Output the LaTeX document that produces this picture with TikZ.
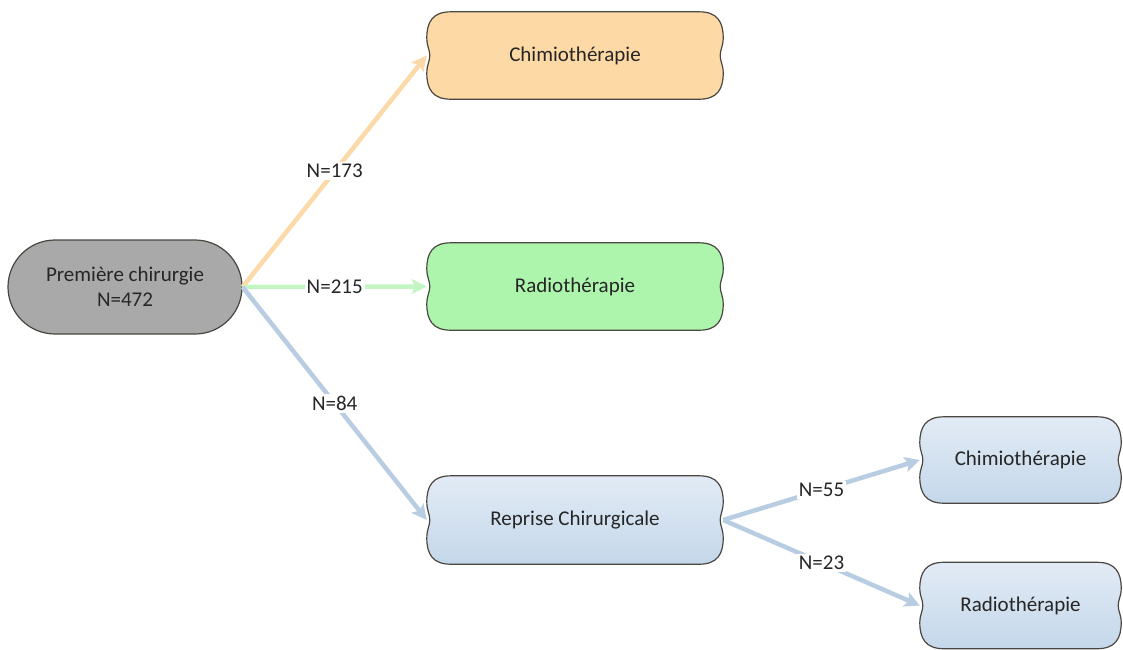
\documentclass[tikz,border=0pt]{standalone}
\usepackage{fontspec}
\setmainfont{Carlito}
\usetikzlibrary{arrows.meta,backgrounds,calc}
\definecolor{edge}{HTML}{4A4640}
\definecolor{txt}{HTML}{262626}
\definecolor{orfill}{HTML}{FDD9A6}
\definecolor{grfill}{HTML}{ADF5AD}
\definecolor{gyfill}{HTML}{A9A9A9}
\definecolor{bltop}{HTML}{E2EBF5}
\definecolor{blbot}{HTML}{C4D7EA}
\definecolor{orline}{HTML}{FBD9A8}
\definecolor{grline}{HTML}{C4F6C4}
\definecolor{blline}{HTML}{B9CDE2}
\newcommand\wavyoutline[2]{%
 \path[#2] let \p1=(#1.north west), \p2=(#1.south east), \p3=(#1.center) in
  ({\x1+24pt},\y1) -- ({\x2-24pt},\y1)
  .. controls ({\x2-6pt},\y1) and (\x2,{\y1-10pt}) .. (\x2,{\y1-26pt})
  .. controls (\x2,{\y3+9pt}) and ({\x2-3pt},{\y3+6pt}) .. ({\x2-3pt},\y3)
  .. controls ({\x2-3pt},{\y3-6pt}) and (\x2,{\y3-9pt}) .. (\x2,{\y2+26pt})
  .. controls (\x2,{\y2+10pt}) and ({\x2-6pt},\y2) .. ({\x2-24pt},\y2)
  -- ({\x1+24pt},\y2)
  .. controls ({\x1+6pt},\y2) and (\x1,{\y2+10pt}) .. (\x1,{\y2+26pt})
  .. controls (\x1,{\y3-9pt}) and ({\x1+3pt},{\y3-6pt}) .. ({\x1+3pt},\y3)
  .. controls ({\x1+3pt},{\y3+6pt}) and (\x1,{\y3+9pt}) .. (\x1,{\y1-26pt})
  .. controls (\x1,{\y1-10pt}) and ({\x1+6pt},\y1) .. cycle;
}
\tikzset{
  txtfont/.style={font=\fontsize{21}{25}\selectfont, text=txt},
  box/.style={txtfont, inner sep=0pt, draw=none},
  bigbox/.style={box, minimum width=296pt, minimum height=87pt},
  smallbox/.style={box, minimum width=201pt, minimum height=86pt},
  outline/.style={draw=edge, line width=1.2pt},
  flow/.style={line width=4.5pt, -{Stealth[length=15pt,width=15pt,inset=3pt]}},
  lbl/.style={txtfont, fill=white, inner sep=2pt, pos=0.5}
}
\begin{document}
\begin{tikzpicture}[x=1pt,y=-1pt]
\useasboundingbox (0,0) rectangle (1123,649);
\node[txtfont, align=center, draw=edge, line width=1.2pt, fill=gyfill,
      rounded corners=47pt, minimum width=234pt, minimum height=94pt, inner sep=0pt]
      (prem) at (125,287) {Première chirurgie\\N=472};
\node[bigbox] (chimioA) at (575,55.5) {Chimiothérapie};
\node[bigbox] (radioA) at (575,286.5) {Radiothérapie};
\node[bigbox, minimum height=88pt] (reprise) at (575,520) {Reprise Chirurgicale};
\node[smallbox] (chimioB) at (1020.5,460) {Chimiothérapie};
\node[smallbox] (radioB) at (1020.5,605.5) {Radiothérapie};
\begin{pgfonlayer}{background}
\wavyoutline{chimioA}{outline, fill=orfill}
\wavyoutline{radioA}{outline, fill=grfill}
\wavyoutline{reprise}{outline, top color=bltop, bottom color=blbot}
\wavyoutline{chimioB}{outline, top color=bltop, bottom color=blbot}
\wavyoutline{radioB}{outline, top color=bltop, bottom color=blbot}
\end{pgfonlayer}
\draw[flow, draw=orline, color=orline] (prem.east) -- (chimioA.west) node[lbl] {N=173};
\draw[flow, draw=grline, color=grline] (prem.east) -- (radioA.west) node[lbl] {N=215};
\draw[flow, draw=blline, color=blline] (prem.east) -- (reprise.west) node[lbl] {N=84};
\draw[flow, draw=blline, color=blline] (reprise.east) -- (chimioB.west) node[lbl] {N=55};
\draw[flow, draw=blline, color=blline] (reprise.east) -- (radioB.west) node[lbl] {N=23};
\end{tikzpicture}
\end{document}
